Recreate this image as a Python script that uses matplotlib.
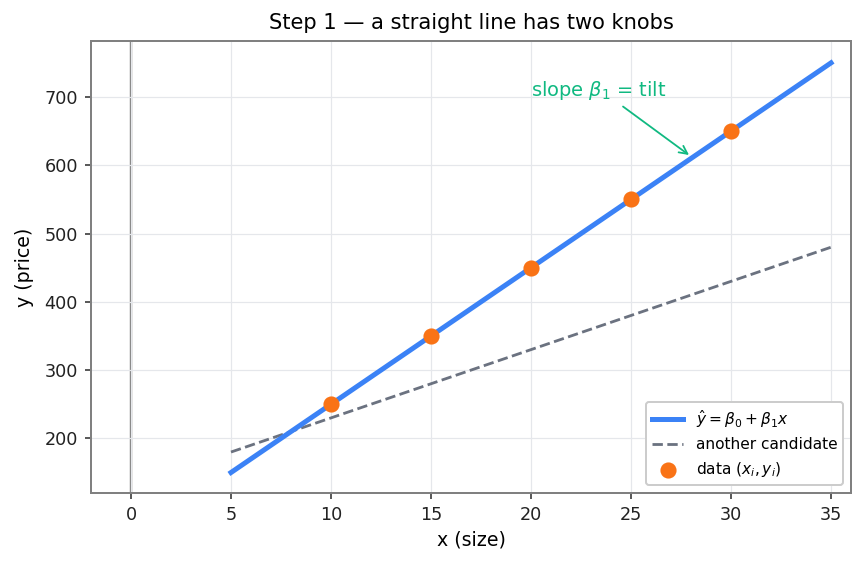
import matplotlib.pyplot as plt

# data
line_x = [5, 35]
fit_y = [150, 750]
alt_y = [180, 480]
data_x = [10, 15, 20, 25, 30]
data_y = [250, 350, 450, 550, 650]

blue = '#3b82f6'
orange = '#f97316'
gray = '#6b7280'
green = '#10b981'

fig = plt.figure(figsize=(6, 3.9375), dpi=144)
ax = fig.add_axes([0.1053, 0.1305, 0.8797, 0.7972])

ax.grid(True, color='#e5e7eb', lw=0.6, zorder=0)
ax.axvline(0, color='#808080', lw=1.2, zorder=1)

ax.plot(line_x, fit_y, color=blue, lw=2.5, label=r'$\hat{y} = \beta_0 + \beta_1 x$', zorder=3)
ax.plot(line_x, alt_y, color=gray, lw=1.4, ls='--', label='another candidate', zorder=2)
ax.scatter(data_x, data_y, s=50, color=orange, label=r'data $(x_i, y_i)$', zorder=4)

ax.text(20, 709, r'slope $\beta_1$ = tilt', color=green, fontsize=9.7, ha='left', va='center')
ax.annotate('', xy=(27.9, 615), xytext=(24.6, 686),
            arrowprops=dict(arrowstyle='->', color=green, lw=0.9, shrinkA=0, shrinkB=0))

ax.set_xlim(-2, 36)
ax.set_ylim(120, 782)
ax.set_xticks(range(0, 36, 5))
ax.set_yticks(range(200, 701, 100))

for s in ax.spines.values():
    s.set_color('#808080')
    s.set_linewidth(1.0)
ax.tick_params(labelsize=8.8, length=3, color='#333333', labelcolor='#222222')

ax.set_xlabel('x (size)', fontsize=9.5, labelpad=3)
ax.set_ylabel('y (price)', fontsize=9.5, labelpad=5)
ax.set_title('Step 1 — a straight line has two knobs', fontsize=10.5, pad=6)

ax.legend(loc='lower right', fontsize=7.7, framealpha=1, edgecolor='#cccccc')

fig.savefig('out.png', dpi=144)
